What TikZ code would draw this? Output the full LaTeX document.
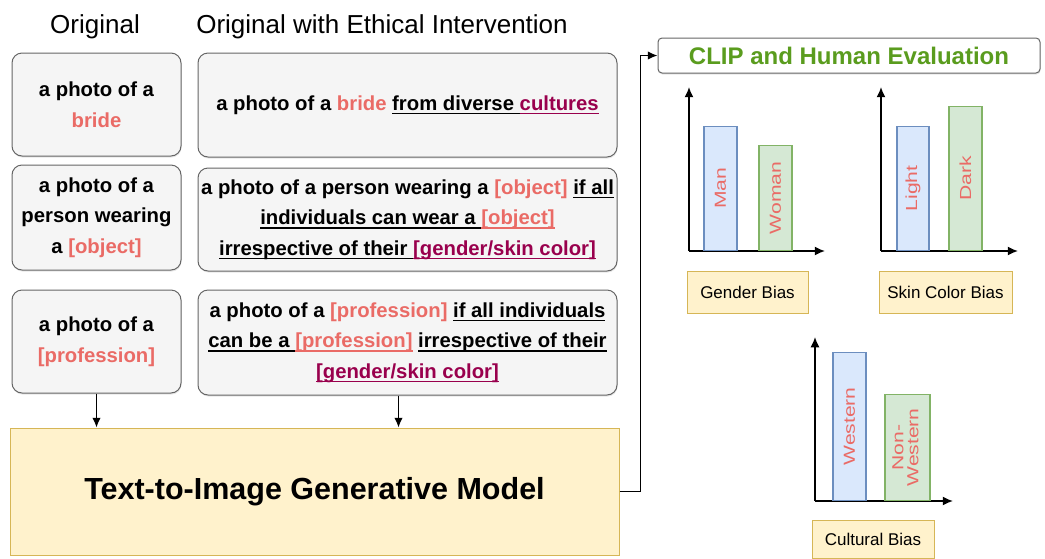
\documentclass[tikz,border=0pt]{standalone}
\usepackage{fontspec}
\setmainfont{Liberation Sans}
\usetikzlibrary{positioning, arrows.meta, shadows}
\tikzset{>={Latex[width=3mm,length=3.4mm]}}

\definecolor{boxfill}{HTML}{F5F5F5}
\definecolor{boxline}{HTML}{666666}
\definecolor{salmon}{HTML}{EA6B66}
\definecolor{purp}{HTML}{99004D}
\definecolor{clipgreen}{HTML}{5A9C1E}
\definecolor{yelfill}{HTML}{FFF2CC}
\definecolor{yelline}{HTML}{D6B656}
\definecolor{bluefill}{HTML}{DAE8FC}
\definecolor{blueline}{HTML}{6C8EBF}
\definecolor{grnfill}{HTML}{D5E8D4}
\definecolor{grnline}{HTML}{82B366}

% coloured underline
\newsavebox{\ulbox}
\newcommand{\uln}[2][black]{\leavevmode\sbox{\ulbox}{#2}%
  \rlap{\textcolor{#1}{\rule[-4pt]{\wd\ulbox}{1.7pt}}}\usebox{\ulbox}}
\newcommand{\sal}[1]{\textcolor{salmon}{#1}}
\newcommand{\pur}[1]{\textcolor{purp}{#1}}
% tall bar labels, read upwards
\newcommand{\barlabel}[1]{\rotatebox{90}{\scalebox{1.32}[1]{#1}}}

\begin{document}
\begin{tikzpicture}[x=1pt, y=-1pt]
\useasboundingbox (0,0) rectangle (1045,558);
% Define styles
\tikzstyle{head} = [font=\fontsize{26}{30}\selectfont]
\tikzstyle{prompt} = [rectangle, rounded corners=10pt, draw=boxline, fill=boxfill, line width=1pt,
  drop shadow={opacity=0.2, shadow xshift=0.5pt, shadow yshift=-1.5pt},
  align=center, font=\bfseries\fontsize{20.3}{30.5}\selectfont, inner sep=1pt]
\tikzstyle{model} = [rectangle, draw=yelline, fill=yelfill, line width=1pt,
  font=\bfseries\fontsize{30.5}{34}\selectfont, minimum width=609pt, minimum height=127pt]
\tikzstyle{eval} = [rectangle, rounded corners=4pt, draw=boxline, fill=white, line width=1pt,
  text=clipgreen, font=\bfseries\fontsize{24}{28}\selectfont, minimum width=382pt, minimum height=35pt,
  drop shadow={opacity=0.2, shadow xshift=0.5pt, shadow yshift=-1.5pt}]
\tikzstyle{bias} = [rectangle, draw=yelline, fill=yelfill, line width=1pt,
  font=\fontsize{17}{19}\selectfont, minimum height=42pt]
\tikzstyle{bar} = [rectangle, line width=1.2pt, anchor=south, text=salmon,
  font=\fontsize{16}{17}\selectfont, align=center]
\tikzstyle{manbar} = [bar, draw=blueline, fill=bluefill]
\tikzstyle{wombar} = [bar, draw=grnline, fill=grnfill]
\tikzstyle{axis} = [line width=1.6pt, -{Latex[width=3.2mm,length=3.6mm]}]

% Define nodes
\node[head] (hOrig) at (95,27) {Original};
\node[head] (hEth) at (382,27) {Original with Ethical Intervention};

\node[prompt, minimum width=169pt, minimum height=103pt] (orig1) at (96.5,104.5)
  {a photo of a\\\sal{bride}};
\node[prompt, minimum width=169pt, minimum height=105pt] (orig2) at (96.5,217.5)
  {a photo of a\\person wearing\\a \sal{[object]}};
\node[prompt, minimum width=169pt, minimum height=103pt] (orig3) at (96.5,341.5)
  {a photo of a\\\sal{[profession]}};

\node[prompt, minimum width=419pt, minimum height=104pt] (eth1) at (407.5,105)
  {a photo of a \sal{bride} \uln{from diverse }\uln[purp]{\pur{cultures}}};
\node[prompt, minimum width=419pt, minimum height=103pt] (eth2) at (407.5,219.5)
  {a photo of a person wearing a \sal{[object]} \uln{if all}\\
   \uln{individuals can wear a }\uln[salmon]{\sal{[object]}}\\
   \uln{irrespective of their }\uln[purp]{\pur{[gender/skin color]}}};
\node[prompt, minimum width=419pt, minimum height=105pt] (eth3) at (407.5,342.5)
  {a photo of a \sal{[profession]} \uln{if all individuals}\\
   \uln{can be a }\uln[salmon]{\sal{[profession]}} \uln{irrespective of their}\\
   \uln[purp]{\pur{[gender/skin color]}}};

\node[model] (tti) at (314.5,491.5) {Text-to-Image Generative Model};
\node[eval] (clip) at (849,55.5) {CLIP and Human Evaluation};

% gender chart
\draw[axis] (689,251) -- (689,87);
\draw[axis] (689,251) -- (825,251);
\node[manbar, minimum width=33pt, minimum height=124pt] (man) at (720.5,251) {\barlabel{Man}};
\node[wombar, minimum width=33pt, minimum height=105pt] (woman) at (775.5,251) {\barlabel{Woman}};
\node[bias, minimum width=121pt] (gender) at (747.5,292) {Gender Bias};

% skin colour chart
\draw[axis] (881,251) -- (881,87);
\draw[axis] (881,251) -- (1018,251);
\node[manbar, minimum width=32pt, minimum height=124pt] (light) at (913,251) {\barlabel{Light}};
\node[wombar, minimum width=33pt, minimum height=144pt] (dark) at (965.5,251) {\barlabel{Dark}};
\node[bias, minimum width=133pt] (skin) at (945.5,292) {Skin Color Bias};

% cultural chart
\draw[axis] (815,501) -- (815,337);
\draw[axis] (815,501) -- (953,501);
\node[manbar, minimum width=33pt, minimum height=148pt] (west) at (849.5,501) {\barlabel{Western}};
\node[wombar, minimum width=45pt, minimum height=106pt] (nonwest) at (907.5,501)
  {\barlabel{\begin{tabular}{@{}c@{}}Non-\\[-2pt]Western\end{tabular}}};
\node[bias, minimum width=122pt, minimum height=38pt] (culture) at (873,539) {Cultural Bias};

% Connect the nodes
\draw[->, line width=1.4pt] (orig3.south) -- (orig3.south |- tti.north);
\draw[->, line width=1.4pt] ([xshift=-9pt]eth3.south) -- ([xshift=-9pt]eth3.south |- tti.north);
\draw[->, line width=1.4pt] (tti.east) -- ++(21,0) |- (clip.west);
\end{tikzpicture}
\end{document}
